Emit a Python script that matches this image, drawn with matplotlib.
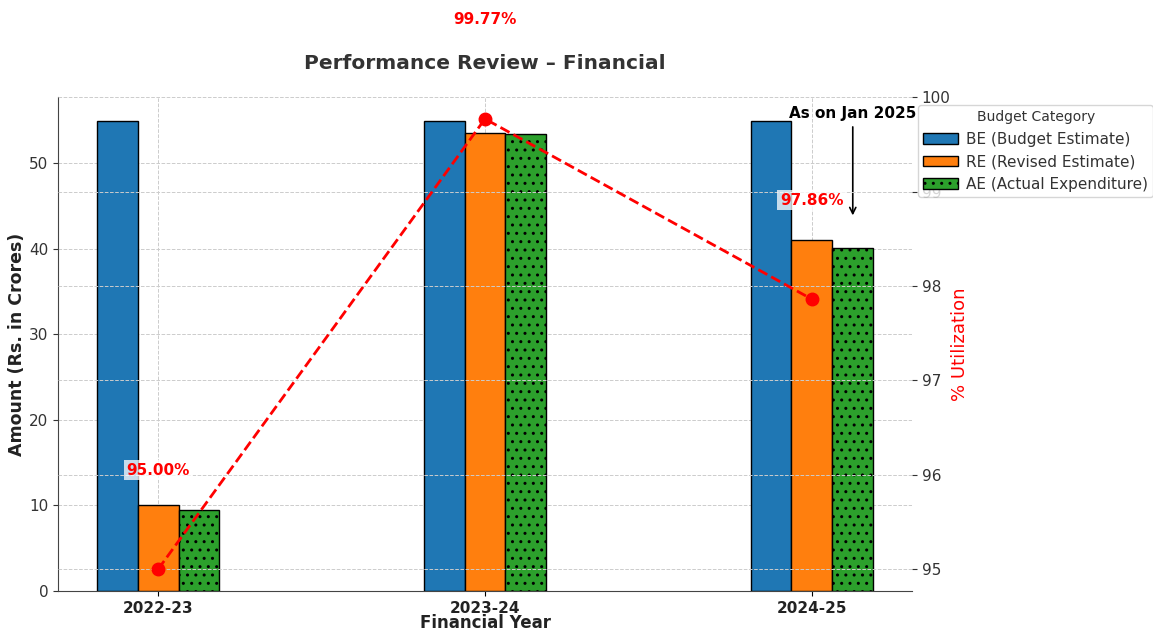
import numpy as np
import matplotlib
matplotlib.use("Agg")
import matplotlib.pyplot as plt

# ---- data -------------------------------------------------------------
years = ["2022-23", "2023-24", "2024-25"]
be = [55.0, 55.0, 55.0]
re_ = [10.0, 53.6, 41.0]
ae = [9.5, 53.5, 40.1]
util = [95.00, 99.77, 97.86]

# ---- style ------------------------------------------------------------
plt.rcParams["font.family"] = ["DejaVu Sans"]
TXT = "#333333"
GRID = dict(color="#cccccc", linestyle="--", linewidth=0.7)

fig = plt.figure(figsize=(11.53, 6.31), dpi=100)
ax = fig.add_axes([0.0503, 0.0634, 0.7407, 0.7826])

x = np.arange(len(years))
w = 0.125

ax.bar(x - w, be, w, color="#1f77b4", edgecolor="black", linewidth=1,
       label="BE (Budget Estimate)", zorder=3)
ax.bar(x, re_, w, color="#ff7f0e", edgecolor="black", linewidth=1,
       label="RE (Revised Estimate)", zorder=3)
ax.bar(x + w, ae, w, color="#2ca02c", edgecolor="black", linewidth=1,
       hatch="..", label="AE (Actual Expenditure)", zorder=3)

ax.set_ylim(0, 57.75)
ax.set_xticks(x)
ax.set_xticklabels(years, fontsize=11, fontweight="bold", color="#222222")
ax.tick_params(axis="y", labelsize=11, colors=TXT)
ax.set_xlabel("Financial Year", fontsize=12, fontweight="bold", color="#222222",
              labelpad=-1)
ax.set_ylabel("Amount (Rs. in Crores)", fontsize=12.5, fontweight="bold",
              color="#222222", labelpad=2)
ax.grid(True, **GRID)
ax.set_axisbelow(True)
for s in ["top", "right"]:
    ax.spines[s].set_visible(False)
for s in ["left", "bottom"]:
    ax.spines[s].set_color("#444444")

ax.set_title("Performance Review \u2013 Financial", fontsize=14.5,
             fontweight="bold", color=TXT, pad=20)

# ---- utilization on twin axis -----------------------------------------
ax2 = ax.twinx()
ax2.plot(x, util, color="red", linestyle="--", linewidth=2, marker="o",
         markersize=9, zorder=5)
ax2.set_ylim(94.77, 100.0)
ax2.set_yticks([95, 96, 97, 98, 99, 100])
ax2.tick_params(axis="y", labelsize=11, colors=TXT)
ax2.set_ylabel("% Utilization", fontsize=13, color="red", labelpad=0)
ax2.grid(True, axis="y", **GRID)
for s in ["top", "right", "left", "bottom"]:
    ax2.spines[s].set_visible(False)

for xi, u in zip(x, util):
    ax2.text(xi, u + 1.05, f"{u:.2f}%", color="red", fontsize=11,
             fontweight="bold", ha="center", va="center", clip_on=False,
             bbox=dict(facecolor="white", alpha=0.75, edgecolor="none", pad=2))

ax.annotate("As on Jan 2025", xy=(x[2] + w, 43.6), xytext=(x[2] + w, 55.8),
            fontsize=11, fontweight="bold", color="black", ha="center",
            va="center",
            arrowprops=dict(arrowstyle="->", color="black", lw=1.2))

h, l = ax.get_legend_handles_labels()
leg = ax2.legend(h, l, title="Budget Category", loc="upper left",
                 bbox_to_anchor=(0.998, 1.0), fontsize=11, title_fontsize=10,
                 handlelength=2.3, handletextpad=0.5, borderpad=0.35,
                 frameon=True)
leg.get_frame().set_edgecolor("#cccccc")
for t in leg.get_texts():
    t.set_color(TXT)
leg.get_title().set_color(TXT)

fig.savefig("out.png", dpi=100)
